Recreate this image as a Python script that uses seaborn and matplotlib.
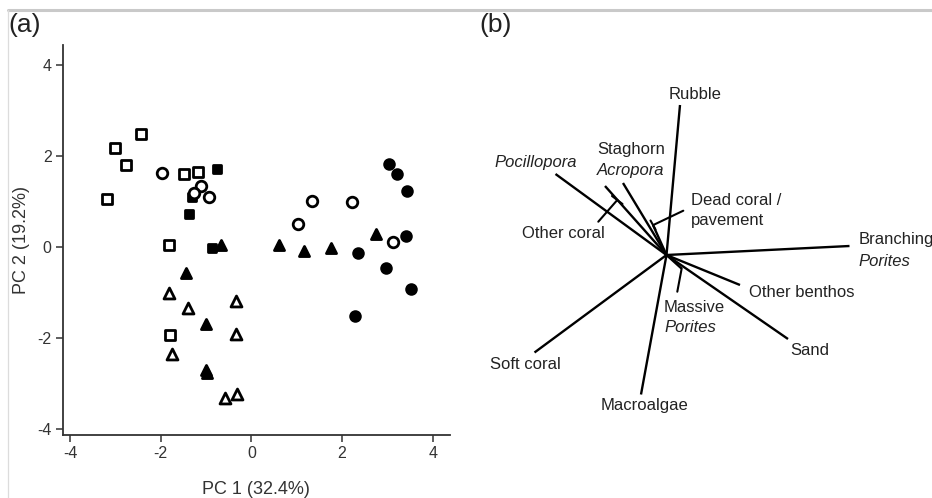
import matplotlib
matplotlib.use("Agg")
import matplotlib.pyplot as plt
from matplotlib.lines import Line2D
import numpy as np
import pandas as pd
import seaborn as sns

sns.set_theme(style="ticks")
plt.rcParams["font.family"] = ["Liberation Sans", "DejaVu Sans"]
plt.rcParams["axes.unicode_minus"] = False

# ---- PCA site scores (panel a), one pair of arrays per site group ----
open_sq_x = [-3.19, -3.00, -2.76, -2.43, -1.48, -1.17, -1.82, -1.79]
open_sq_y = [1.05, 2.18, 1.81, 2.48, 1.61, 1.65, 0.04, -1.93]

filled_sq_x = [-0.76, -1.31, -1.37, -0.87]
filled_sq_y = [1.71, 1.10, 0.73, -0.01]

open_ci_x = [-1.98, -1.12, -1.26, -0.94, 1.02, 1.33, 2.23, 3.12]
open_ci_y = [1.63, 1.34, 1.19, 1.09, 0.51, 1.02, 1.00, 0.12]

filled_ci_x = [3.03, 3.21, 3.44, 3.42, 2.36, 2.96, 3.51, 2.29]
filled_ci_y = [1.82, 1.61, 1.24, 0.24, -0.14, -0.45, -0.93, -1.51]

filled_tri_x = [-0.66, 0.62, 1.15, 1.76, 2.74, -1.44, -1.00, -1.00, -0.97]
filled_tri_y = [0.05, 0.05, -0.09, -0.03, 0.28, -0.56, -1.69, -2.70, -2.76]

open_tri_x = [-1.82, -1.39, -0.34, -0.34, -1.76, -0.59, -0.31]
open_tri_y = [-1.00, -1.34, -1.19, -1.92, -2.34, -3.32, -3.22]

axis_ticks = [-4, -2, 0, 2, 4]
x_label = "PC 1 (32.4%)"
y_label = "PC 2 (19.2%)"

# ---- variable loadings (panel b) ----
var_names = ["Rubble", "Pocillopora", "Other coral", "Staghorn Acropora",
             "Dead coral / pavement", "Branching Porites", "Other benthos",
             "Sand", "Massive Porites", "Soft coral", "Macroalgae"]
load_pc1 = [0.09, -0.74, -0.41, -0.29, -0.09, 1.22, 0.49, 0.81, 0.10, -0.88, -0.17]
load_pc2 = [1.00, 0.54, 0.46, 0.48, 0.20, 0.06, -0.20, -0.56, -0.09, -0.65, -0.93]

groups = [
    (open_sq_x, open_sq_y, "s", "white"),
    (filled_sq_x, filled_sq_y, "s", "black"),
    (open_ci_x, open_ci_y, "o", "white"),
    (filled_ci_x, filled_ci_y, "o", "black"),
    (filled_tri_x, filled_tri_y, "^", "black"),
    (open_tri_x, open_tri_y, "^", "white"),
]

W, H = 932, 498
fig = plt.figure(figsize=(W / 100, H / 100), dpi=100)

def fx(px):
    return px / W

def fy(py):
    return 1 - py / H

# ---------------- panel (a) ----------------
ax = fig.add_axes([fx(62.7), fy(435), fx(450) - fx(62.7), fy(45) - fy(435)])
for gx, gy, mk, face in groups:
    df = pd.DataFrame({"pc1": gx, "pc2": gy})
    filled = face == "black"
    size = {"s": 48, "o": 58, "^": 62}[mk]
    if filled:
        size *= 0.85
    sns.scatterplot(data=df, x="pc1", y="pc2", ax=ax, marker=mk, color=face,
                    edgecolor="black", linewidth=2.0, s=size, zorder=3,
                    legend=False)

ax.set_xlim(-4.16, 4.38)
ax.set_ylim(-4.13, 4.44)
ax.set_xticks(axis_ticks)
ax.set_yticks(axis_ticks)
ax.set_xticklabels([str(t) for t in axis_ticks])
ax.set_yticklabels([str(t) for t in axis_ticks])
for s in ["top", "right"]:
    ax.spines[s].set_visible(False)
for s in ["left", "bottom"]:
    ax.spines[s].set_color("#333333")
    ax.spines[s].set_linewidth(1.3)
ax.tick_params(axis="both", direction="out", length=5, width=1.1,
               color="#333333", labelsize=11.5, labelcolor="#333333", pad=3)
ax.set_xlabel(x_label, fontsize=13, color="#333333", labelpad=14)
ax.set_ylabel(y_label, fontsize=13, color="#333333", labelpad=5)
ax.set_facecolor("white")

fig.text(fx(8), fy(25), "(a)", fontsize=19, ha="left", va="center", color="#222222")
fig.text(fx(479), fy(25), "(b)", fontsize=19, ha="left", va="center", color="#222222")

# ---------------- panel (b) ----------------
cx, cy = 666.5, 255.0       # origin of the biplot in figure pixels
scale = 150.0               # pixels per loading unit
bx0, bx1, by0, by1 = 470, 932, 40, 498
axb = fig.add_axes([fx(bx0), fy(by1), fx(bx1) - fx(bx0), fy(by0) - fy(by1)])
axb.set_xlim((bx0 - cx) / scale, (bx1 - cx) / scale)
axb.set_ylim((cy - by1) / scale, (cy - by0) / scale)
axb.set_axis_off()

for x1, y1 in zip(load_pc1, load_pc2):
    axb.plot([0, x1], [0, y1], color="black", lw=1.7, solid_capstyle="butt")

def P(px, py):
    return ((px - cx) / scale, (cy - py) / scale)

# leader lines for crowded labels
for (a, b) in [((598.3, 221.7), (617.3, 200.0)),
               ((683.3, 210.7), (653.3, 225.0)),
               ((681.7, 268.3), (677.3, 291.7))]:
    p, q = P(*a), P(*b)
    axb.plot([p[0], q[0]], [p[1], q[1]], color="black", lw=1.5)
for (a, b) in [((612.0, 196.0), (622.5, 204.0)),
               ((650.5, 220.5), (655.5, 229.5))]:
    p, q = P(*a), P(*b)
    axb.plot([p[0], q[0]], [p[1], q[1]], color="black", lw=1.5)

fs = 12
col = "#222222"
def lab(px, py, s, ha="left", style="normal"):
    x, y = P(px, py)
    axb.text(x, y, s, fontsize=fs, ha=ha, va="center", color=col,
             style=style, clip_on=False)

lab(695, 94, "Rubble", ha="center")
lab(536, 162, "Pocillopora", ha="center", style="italic")
lab(631, 149, "Staghorn", ha="center")
lab(631, 170, "Acropora", ha="center", style="italic")
lab(690.7, 200, "Dead coral /")
lab(690.7, 220, "pavement")
lab(522.3, 233, "Other coral")
lab(858.3, 239, "Branching")
lab(858.3, 261, "Porites", style="italic")
lab(749.3, 292, "Other benthos")
lab(664, 307, "Massive")
lab(664, 327, "Porites", style="italic")
lab(790, 350, "Sand")
lab(490, 364, "Soft coral")
lab(601, 405, "Macroalgae")

# thin frame lines along the top and left edges
fig.add_artist(Line2D([fx(8), 1], [fy(10), fy(10)], color="#c9c9c9", lw=2.2,
                      transform=fig.transFigure))
fig.add_artist(Line2D([fx(8), fx(8)], [fy(10), 0], color="#dcdcdc", lw=0.9,
                      transform=fig.transFigure))

fig.savefig("out.png", dpi=100, facecolor="white")
